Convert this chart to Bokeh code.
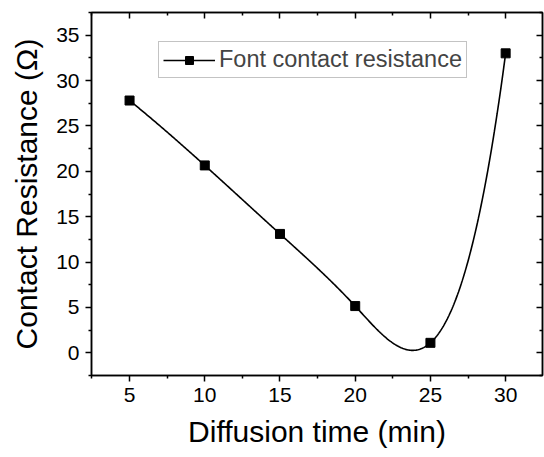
import numpy as np
from bokeh.plotting import figure
from bokeh.models import LinearAxis, Range1d, FixedTicker, Legend, LegendItem
from bokeh.embed import file_html
from bokeh.resources import INLINE

time_min = [5, 10, 15, 20, 25, 30]
resistance = [27.8, 20.65, 13.1, 5.15, 1.1, 33.0]
x_ticks = [5, 10, 15, 20, 25, 30]
x_minor = [2.5, 7.5, 12.5, 17.5, 22.5, 27.5, 32.5]
y_ticks = [0, 5, 10, 15, 20, 25, 30, 35]
y_minor = [-2.5, 2.5, 7.5, 12.5, 17.5, 22.5, 27.5, 32.5, 37.5]
series_name = "Font contact resistance"


def spline_not_a_knot(xs, ys, n=400):
    """Cubic spline connector (not-a-knot ends) through the data points."""
    xs = np.asarray(xs, float)
    ys = np.asarray(ys, float)
    k = len(xs)
    h = np.diff(xs)
    A = np.zeros((k, k))
    b = np.zeros(k)
    A[0, 0] = h[1]; A[0, 1] = -(h[0] + h[1]); A[0, 2] = h[0]
    A[-1, -3] = h[-1]; A[-1, -2] = -(h[-2] + h[-1]); A[-1, -1] = h[-2]
    for i in range(1, k - 1):
        A[i, i - 1] = h[i - 1]
        A[i, i] = 2 * (h[i - 1] + h[i])
        A[i, i + 1] = h[i]
        b[i] = 6 * ((ys[i + 1] - ys[i]) / h[i] - (ys[i] - ys[i - 1]) / h[i - 1])
    M = np.linalg.solve(A, b)
    xx = np.linspace(xs[0], xs[-1], n)
    yy = np.empty_like(xx)
    for j, x in enumerate(xx):
        i = min(np.searchsorted(xs, x, side="right") - 1, k - 2)
        t1 = xs[i + 1] - x
        t0 = x - xs[i]
        yy[j] = (M[i] * t1 ** 3 / (6 * h[i]) + M[i + 1] * t0 ** 3 / (6 * h[i])
                 + (ys[i] / h[i] - M[i] * h[i] / 6) * t1
                 + (ys[i + 1] / h[i] - M[i + 1] * h[i] / 6) * t0)
    return xx, yy


sx, sy = spline_not_a_knot(time_min, resistance)

FONT = "Liberation Sans"

p = figure(width=544, height=457, output_backend="svg", toolbar_location=None,
           x_range=Range1d(2.47, 32.45), y_range=Range1d(-2.5, 37.5),
           min_border_left=91, min_border_right=2, min_border_top=12, min_border_bottom=82)
p.grid.visible = False
p.outline_line_color = "black"
p.outline_line_width = 1.5
p.background_fill_color = "white"
p.border_fill_color = "white"

ln = p.line(sx, sy, line_color="black", line_width=1.6)
sq = p.scatter(time_min, resistance, marker="square", size=9, fill_color="black", line_color="black")

for ax in (p.xaxis[0], p.yaxis[0]):
    ax.axis_line_width = 1.5
    ax.major_tick_line_width = 1.5
    ax.minor_tick_line_width = 1.5
    ax.major_tick_out = 6
    ax.major_tick_in = 0
    ax.minor_tick_out = 3
    ax.minor_tick_in = 0
    ax.major_label_text_font = FONT
    ax.major_label_text_font_size = "21px"
    ax.major_label_text_color = "black"
    ax.axis_label_text_font = FONT
    ax.axis_label_text_font_size = "30px"
    ax.axis_label_text_font_style = "normal"
    ax.axis_label_text_color = "black"

p.xaxis[0].ticker = FixedTicker(ticks=x_ticks, minor_ticks=x_minor)
p.yaxis[0].ticker = FixedTicker(ticks=y_ticks, minor_ticks=y_minor)
p.xaxis[0].axis_label = "Diffusion time (min)"
p.yaxis[0].axis_label = "Contact Resistance (Ω)"
p.xaxis[0].axis_label_standoff = 10
p.yaxis[0].axis_label_standoff = 10
p.xaxis[0].major_label_standoff = 6
p.yaxis[0].major_label_standoff = 6

top = LinearAxis(ticker=FixedTicker(ticks=x_ticks, minor_ticks=x_minor),
                 major_label_overrides={t: "" for t in x_ticks})
right = LinearAxis(ticker=FixedTicker(ticks=y_ticks, minor_ticks=y_minor),
                   major_label_overrides={t: "" for t in y_ticks})
for ax in (top, right):
    ax.axis_line_width = 1.5
    ax.major_tick_line_width = 1.5
    ax.minor_tick_line_width = 1.5
    ax.major_tick_in = 6
    ax.major_tick_out = 0
    ax.minor_tick_in = 3
    ax.minor_tick_out = 0
    ax.major_label_standoff = 0
p.add_layout(top, "above")
p.add_layout(right, "right")

legend = Legend(items=[LegendItem(label=series_name, renderers=[ln, sq])],
                location=(67, 297), border_line_color="#888888", border_line_width=1,
                label_text_font=FONT, label_text_font_size="23.5px", glyph_width=52,
                glyph_height=20, padding=4, margin=0, label_standoff=4, spacing=0,
                background_fill_alpha=1.0)
p.add_layout(legend, "center")

open("out.html", "w").write(file_html(p, INLINE))
